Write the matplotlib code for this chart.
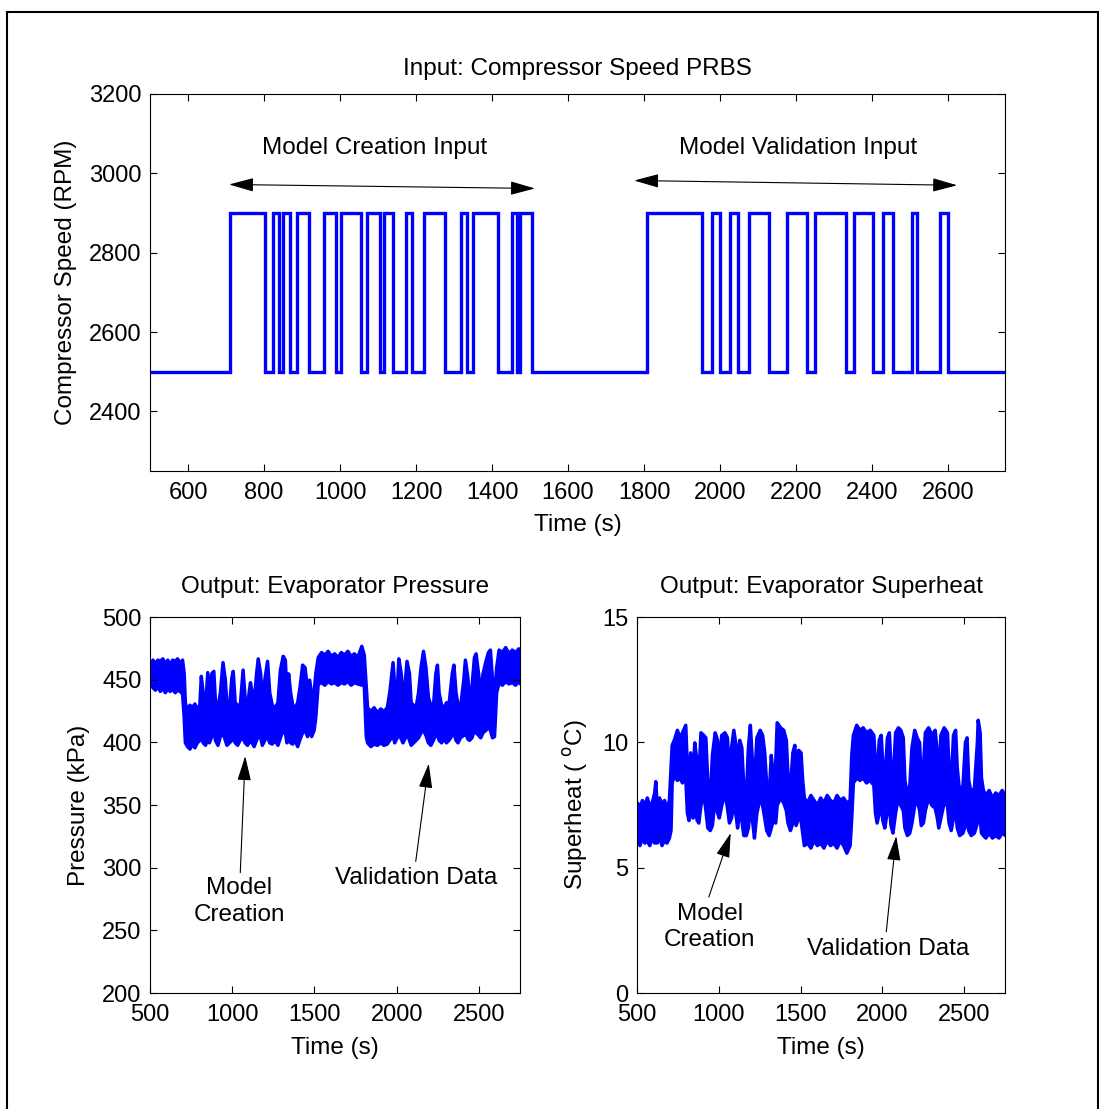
import matplotlib
matplotlib.use("Agg")
import matplotlib.pyplot as plt
from matplotlib.patches import Rectangle
import numpy as np

plt.rcParams['font.family'] = ['Liberation Sans', 'DejaVu Sans']
FS = 17
FT = 17.5
plt.rcParams['font.size'] = FS

# ---- PRBS input (compressor speed) ----
prbs_switch_times = [710, 803, 824, 839, 851, 868, 888, 919, 958, 990, 1002, 1056,
                     1070, 1105, 1116, 1139, 1174, 1190, 1221, 1277, 1318, 1333,
                     1349, 1417, 1452, 1465, 1474, 1505,
                     1807, 1952, 1978, 2000, 2026, 2048, 2077, 2129, 2177, 2228,
                     2250, 2332, 2353, 2403, 2430, 2454, 2505, 2518, 2579, 2601]
speed_low = 2500
speed_high = 2900
t_start, t_end = 500, 2750

# ---- Evaporator pressure envelope (kPa) ----
pres_t = [500, 515, 530, 545, 560, 575, 590, 605, 620, 635, 650, 665, 680, 695,
          705, 712, 725, 740, 755, 770, 785, 800, 809, 820, 835, 848, 858, 872,
          885, 895, 910, 925, 941, 955, 965, 980, 995, 1003, 1015, 1030, 1045,
          1063, 1075, 1090, 1108, 1118, 1130, 1145, 1155, 1170, 1180, 1195, 1212,
          1225, 1240, 1258, 1275, 1290, 1307, 1320, 1330, 1340, 1352, 1365, 1380,
          1395, 1410, 1425, 1440, 1455, 1468, 1480, 1495, 1505, 1520, 1540, 1560,
          1580, 1600, 1620, 1640, 1660, 1680, 1700, 1720, 1740, 1760, 1785, 1800,
          1812, 1820, 1840, 1860, 1880, 1900, 1920, 1940, 1955, 1975, 1985, 2000,
          2010, 2025, 2035, 2050, 2060, 2075, 2085, 2100, 2115, 2130, 2145, 2160,
          2175, 2190, 2205, 2220, 2235, 2245, 2255, 2270, 2285, 2300, 2315, 2335,
          2345, 2358, 2370, 2385, 2405, 2415, 2430, 2440, 2455, 2470, 2480, 2495,
          2508, 2522, 2540, 2555, 2567, 2580, 2592, 2605, 2620, 2640, 2660, 2680,
          2700, 2720, 2740, 2750]
pres_hi = [462, 466, 463, 466, 465, 467, 463, 466, 462, 466, 465, 467, 463, 466,
           455, 432, 425, 430, 428, 431, 427, 430, 453, 440, 428, 456, 432, 455,
           457, 433, 428, 440, 464, 450, 430, 428, 452, 457, 432, 430, 428,
           458, 436, 430, 448, 440, 432, 455, 467, 455, 434, 450, 465,
           440, 430, 428, 432, 458, 469, 466, 438, 455, 440, 430, 428,
           432, 445, 462, 460, 442, 450, 438, 440, 455, 468, 472, 470,
           473, 469, 471, 468, 472, 470, 473, 469, 471, 468, 477, 470,
           445, 428, 425, 428, 424, 427, 425, 428, 440, 464, 445, 440,
           467, 455, 432, 450, 465, 455, 432, 430, 428, 440, 460, 473,
           460, 436, 430, 428, 455, 462, 440, 430, 428, 432, 430, 455,
           462, 440, 430, 428, 450, 466, 452, 432, 445, 468, 471, 455,
           438, 455, 465, 472, 474, 450, 436, 460, 474, 472, 476, 471,
           474, 472, 475, 473]
pres_lo = [446, 444, 442, 445, 441, 444, 440, 443, 441, 443, 440, 442, 441, 439,
           420, 400, 397, 395, 399, 396, 400, 402, 405, 400, 398, 404, 400, 405,
           410, 402, 398, 405, 408, 402, 398, 400, 402, 405, 400, 398, 402,
           404, 400, 398, 402, 400, 397, 402, 405, 404, 398, 402, 405,
           400, 399, 402, 398, 404, 410, 408, 400, 404, 400, 399, 402,
           397, 403, 408, 410, 405, 410, 405, 410, 420, 447, 448, 446,
           449, 447, 448, 446, 448, 447, 449, 446, 448, 447, 446, 446,
           405, 400, 397, 399, 398, 400, 398, 399, 402, 406, 400, 404,
           408, 403, 400, 404, 408, 402, 398, 400, 402, 404, 408, 410,
           406, 400, 398, 402, 406, 408, 402, 400, 403, 400, 402, 406,
           408, 402, 400, 404, 406, 408, 403, 402, 404, 410, 408, 406,
           404, 408, 410, 412, 410, 404, 405, 440, 448, 446, 449, 447,
           448, 446, 449, 447]

# ---- Evaporator superheat envelope (deg C) ----
sh_t = [500, 515, 530, 545, 560, 575, 590, 605, 612, 620, 635, 650, 665, 680, 695,
        705, 712, 725, 744, 760, 775, 795, 805, 815, 825, 840, 850, 865, 875, 888,
        905, 918, 930, 945, 958, 975, 990, 1000, 1015, 1035, 1050, 1062, 1075,
        1089, 1105, 1112, 1125, 1138, 1150, 1165, 1178, 1190, 1205, 1215, 1230,
        1250, 1265, 1278, 1290, 1305, 1318, 1330, 1345, 1354, 1375, 1394, 1410,
        1420, 1435, 1450, 1462, 1470, 1485, 1500, 1510, 1520, 1540, 1560, 1580,
        1600, 1620, 1640, 1660, 1680, 1700, 1720, 1740, 1760, 1780, 1800, 1810,
        1820, 1840, 1860, 1880, 1900, 1923, 1945, 1955, 1965, 1978, 1990, 2000,
        2012, 2028, 2040, 2050, 2062, 2078, 2095, 2110, 2125, 2135, 2150, 2165,
        2178, 2195, 2210, 2225, 2235, 2248, 2260, 2280, 2300, 2320, 2333, 2342,
        2355, 2375, 2395, 2405, 2418, 2432, 2445, 2455, 2470, 2490, 2505, 2515,
        2525, 2540, 2560, 2578, 2583, 2595, 2603, 2615, 2630, 2650, 2670, 2690,
        2710, 2730, 2750]
sh_hi = [7.6, 7.4, 7.7, 7.5, 7.8, 7.5, 7.6, 8.0, 8.45, 7.5, 7.8, 7.5, 7.7, 7.4, 7.7,
         9.0, 9.9, 10.1, 10.5, 10.2, 10.4, 10.7, 9.0, 8.3, 9.6, 8.5, 10.0, 9.2, 8.6, 10.4,
         10.3, 10.2, 8.4, 7.8, 9.5, 10.4, 10.1, 8.7, 10.3, 10.4, 10.2, 8.6, 9.8,
         10.5, 9.8, 8.3, 10.1, 9.8, 8.2, 7.8, 9.8, 10.7, 9.0, 8.3, 10.2,
         10.5, 10.3, 9.6, 8.3, 7.9, 9.5, 8.6, 9.2, 10.8, 10.6, 10.5, 10.1,
         8.7, 8.2, 9.6, 9.9, 8.8, 9.7, 9.6, 8.5, 7.8, 7.6, 7.9, 7.7,
         7.5, 7.8, 7.6, 7.9, 7.7, 7.6, 7.9, 7.7, 7.8, 7.6, 7.7, 9.5,
         10.3, 10.7, 10.5, 10.6, 10.4, 10.5, 10.3, 9.2, 8.5, 10.1, 10.3, 9.1,
         8.4, 10.2, 10.4, 9.0, 8.3, 10.4, 10.6, 10.5, 10.2, 8.5, 7.9, 8.3,
         9.8, 10.5, 10.2, 10.0, 8.4, 9.0, 10.4, 10.6, 10.3, 10.5, 9.6, 8.5,
         10.3, 10.6, 10.4, 9.0, 8.3, 10.3, 10.5, 9.0, 8.0, 8.3, 10.0, 10.2,
         8.5, 8.0, 8.2, 10.0, 10.9, 10.4, 8.6, 8.1, 7.9, 8.1, 7.8, 8.0,
         7.9, 8.1, 7.9]
sh_lo = [6.1, 5.9, 6.2, 6.0, 6.1, 5.9, 6.2, 6.0, 6.1, 6.0, 6.2, 5.9, 6.1, 6.0, 6.2,
         6.5, 8.4, 8.7, 8.5, 8.6, 8.4, 8.6, 7.2, 6.9, 7.3, 7.0, 7.4, 6.9, 6.8, 7.5,
         8.0, 7.3, 6.6, 6.5, 6.7, 7.8, 7.2, 7.0, 7.5, 8.0, 7.4, 6.8, 7.0,
         7.6, 7.0, 6.6, 7.3, 6.9, 6.3, 6.3, 6.6, 7.4, 6.8, 6.2, 7.2,
         7.8, 7.5, 7.0, 6.5, 6.3, 6.6, 6.9, 6.8, 7.5, 7.8, 7.6, 7.3,
         6.8, 6.5, 6.8, 7.0, 6.7, 7.0, 6.9, 6.4, 5.9, 6.0, 5.8, 6.1,
         5.9, 6.0, 5.8, 6.1, 5.9, 6.0, 5.8, 6.1, 5.9, 5.6, 5.9, 7.0,
         8.4, 8.6, 8.5, 8.6, 8.4, 8.5, 8.3, 7.2, 6.8, 7.2, 7.6, 6.9,
         6.6, 7.3, 7.5, 6.7, 6.4, 7.2, 7.8, 7.5, 7.3, 6.6, 6.3, 6.4,
         6.8, 7.5, 7.7, 7.3, 6.7, 6.8, 7.3, 7.8, 7.5, 7.4, 7.0, 6.6,
         7.0, 7.6, 7.5, 6.8, 6.5, 7.0, 7.4, 6.6, 6.3, 6.4, 6.7, 7.0,
         6.5, 6.3, 6.4, 6.8, 7.0, 7.0, 6.4, 6.3, 6.2, 6.4, 6.2, 6.3,
         6.2, 6.4, 6.3]

W, H = 1099, 1109
fig = plt.figure(figsize=(W / 100, H / 100), dpi=100)
fig.patch.set_facecolor('white')

# outer frame
fig.add_artist(Rectangle((7 / W, -0.02), 1091 / W, 1 - 12 / H + 0.02,
                         transform=fig.transFigure, fill=False,
                         edgecolor='black', linewidth=1.5))


def style_axes(ax):
    ax.tick_params(direction='in', top=True, right=True, length=5, width=0.8,
                   labelsize=FS)
    ax.tick_params(axis='x', pad=8)
    ax.tick_params(axis='y', pad=6)
    for s in ax.spines.values():
        s.set_linewidth(0.8)


def fx(px):
    return px / W


def fy(py):
    return 1 - py / H


blue = (0, 0, 1)

# ---------------- Top: PRBS ----------------
ax1 = fig.add_axes([fx(150), fy(471), fx(1005) - fx(150), fy(94) - fy(471)])
ts = [t_start]
vs = [speed_low]
level = speed_low
for t in prbs_switch_times:
    ts.append(t)
    vs.append(level)
    level = speed_high if level == speed_low else speed_low
    ts.append(t)
    vs.append(level)
ts.append(t_end)
vs.append(level)
ax1.plot(ts, vs, color=blue, linewidth=2.4, solid_joinstyle='miter')
ax1.set_xlim(500, 2750)
ax1.set_ylim(2250, 3200)
ax1.set_xticks(np.arange(600, 2601, 200))
ax1.set_yticks(np.arange(2400, 3201, 200))
ax1.set_xlabel('Time (s)', fontsize=FT, labelpad=7)
ax1.set_ylabel('Compressor Speed (RPM)', fontsize=FT, labelpad=9)
ax1.set_title('Input: Compressor Speed PRBS', fontsize=FT, pad=14)
style_axes(ax1)

arr2 = dict(arrowstyle='<|-|>,head_length=0.9,head_width=0.25', color='black',
            lw=0.8, shrinkA=0, shrinkB=0)
ax1.text(1092, 3063, 'Model Creation Input', ha='center', va='center', fontsize=FT)
ax1.annotate('', xy=(708, 2972), xytext=(1513, 2962), arrowprops=arr2)
ax1.text(2205, 3063, 'Model Validation Input', ha='center', va='center', fontsize=FT)
ax1.annotate('', xy=(1774, 2982), xytext=(2624, 2970), arrowprops=arr2)

arr1 = dict(arrowstyle='-|>,head_length=0.9,head_width=0.25', color='black',
            lw=0.8, shrinkA=0, shrinkB=0)

# ---------------- Bottom-left: Pressure ----------------
ax2 = fig.add_axes([fx(150), fy(993), fx(520) - fx(150), fy(617) - fy(993)])
ax2.fill_between(pres_t, pres_lo, pres_hi, color=blue, edgecolor=blue,
                 linewidth=2.5)
ax2.set_xlim(500, 2750)
ax2.set_ylim(200, 500)
ax2.set_xticks([500, 1000, 1500, 2000, 2500])
ax2.set_yticks(np.arange(200, 501, 50))
ax2.set_xlabel('Time (s)', fontsize=FT, labelpad=8)
ax2.set_ylabel('Pressure (kPa)', fontsize=FT, labelpad=9)
ax2.set_title('Output: Evaporator Pressure', fontsize=FT, pad=17)
style_axes(ax2)
ax2.text(1043, 273, 'Model\nCreation', ha='center', va='center', fontsize=FT,
         linespacing=1.25)
ax2.annotate('', xy=(1079, 389), xytext=(1049, 296), arrowprops=arr1)
ax2.text(2116, 292, 'Validation Data', ha='center', va='center', fontsize=FT)
ax2.annotate('', xy=(2195, 383), xytext=(2116, 305), arrowprops=arr1)

# ---------------- Bottom-right: Superheat ----------------
ax3 = fig.add_axes([fx(637), fy(993), fx(1005) - fx(637), fy(617) - fy(993)])
ax3.fill_between(sh_t, sh_lo, sh_hi, color=blue, edgecolor=blue, linewidth=2.5)
ax3.set_xlim(500, 2750)
ax3.set_ylim(0, 15)
ax3.set_xticks([500, 1000, 1500, 2000, 2500])
ax3.set_yticks([0, 5, 10, 15])
ax3.set_xlabel('Time (s)', fontsize=FT, labelpad=8)
ax3.set_ylabel('Superheat ( $^{\\mathrm{o}}$C)', fontsize=FT, labelpad=9)
ax3.set_title('Output: Evaporator Superheat', fontsize=FT, pad=17)
style_axes(ax3)
ax3.text(945, 2.63, 'Model\nCreation', ha='center', va='center', fontsize=FT,
         linespacing=1.25)
ax3.annotate('', xy=(1073, 6.38), xytext=(939, 3.83), arrowprops=arr1)
ax3.text(2037, 1.76, 'Validation Data', ha='center', va='center', fontsize=FT)
ax3.annotate('', xy=(2085, 6.26), xytext=(2024, 2.44), arrowprops=arr1)

fig.savefig('out.png', dpi=100, facecolor='white')
